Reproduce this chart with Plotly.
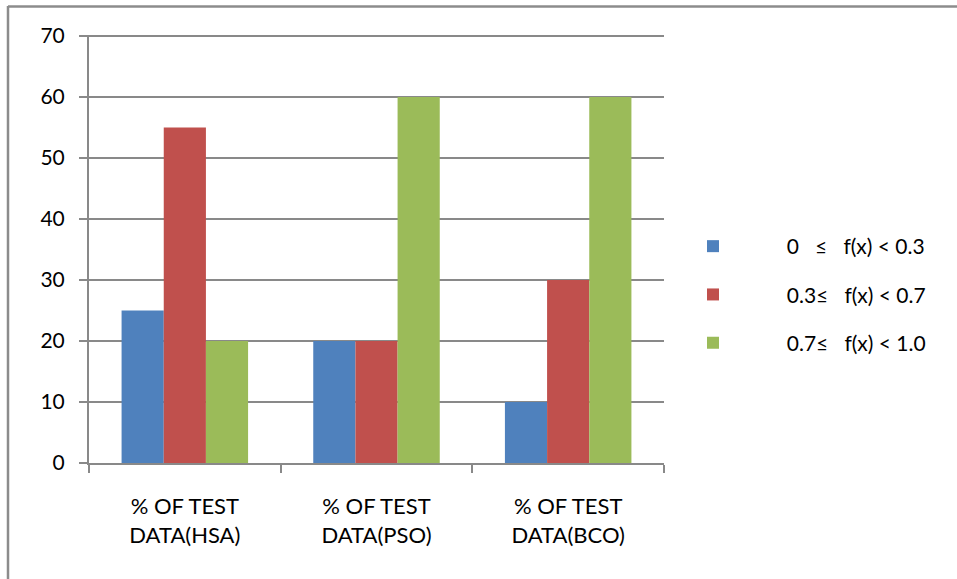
import plotly.graph_objects as go

categories = ["% OF TEST<br>DATA(HSA)", "% OF TEST<br>DATA(PSO)", "% OF TEST<br>DATA(BCO)"]
series_names = ["0\u00a0\u00a0\u00a0≤\u00a0\u00a0\u00a0f(x)\u00a0<\u00a00.3",
                "0.3≤\u00a0\u00a0\u00a0f(x)\u00a0<\u00a00.7",
                "0.7≤\u00a0\u00a0\u00a0f(x)\u00a0<\u00a01.0"]
low_vals = [25, 20, 10]
mid_vals = [55, 20, 30]
high_vals = [20, 60, 60]
colors = ["#4F81BD", "#C0504D", "#9BBB59"]
y_ticks = [0, 10, 20, 30, 40, 50, 60, 70]

FONT = "Lato, Open Sans, sans-serif"
fig = go.Figure()
pad = "\u00a0" * 10
for i, (name, vals) in enumerate(zip(series_names, [low_vals, mid_vals, high_vals])):
    fig.add_trace(go.Bar(x=categories, y=vals, name=pad + name, marker_color=colors[i],
                         marker_line_width=0, legendgroup=str(i)))

W, H = 957, 579
L, R, T, B = 89, 957 - 664, 36, 579 - 463
pw, ph = W - L - R, H - T - B

def px2x(p):
    return (p - L) / pw

def py2y(p):
    return (H - B - p) / ph

fig.update_layout(
    width=W, height=H,
    margin=dict(l=L, r=R, t=T, b=B, autoexpand=False),
    paper_bgcolor="white", plot_bgcolor="white",
    barmode="group", bargap=0.34, bargroupgap=0,
    font=dict(family=FONT, size=21, color="black"),
    legend=dict(x=px2x(693), y=py2y(226), xanchor="left", yanchor="top",
                tracegroupgap=18, font=dict(size=21), bgcolor="rgba(0,0,0,0)"),
    xaxis=dict(showgrid=False, showline=True, linecolor="#898989", linewidth=2,
               ticks="outside", tickson="boundaries", ticklen=8, tickwidth=2, tickcolor="#898989",
               ticklabelstandoff=23, tickfont=dict(size=22)),
    yaxis=dict(range=[0, 70], tickvals=y_ticks, showgrid=True, gridcolor="#898989", gridwidth=2,
               showline=True, linecolor="#898989", linewidth=2, ticks="outside", ticklen=8,
               tickwidth=2, tickcolor="#898989", ticklabelstandoff=10, zeroline=False),
    shapes=[
        dict(type="line", xref="paper", yref="paper", x0=px2x(8), x1=px2x(W + 5), y0=py2y(6.5), y1=py2y(6.5),
             line=dict(color="#8c8c8c", width=2.5)),
        dict(type="line", xref="paper", yref="paper", x0=px2x(8), x1=px2x(8), y0=py2y(6), y1=py2y(H + 5),
             line=dict(color="#8c8c8c", width=2.5)),
        dict(type="line", xref="paper", yref="paper", x0=px2x(81), x1=1, y0=1, y1=1,
             line=dict(color="#898989", width=2)),
    ],
)
fig.write_html("out.html", config={"displayModeBar": False},
               post_script="document.body.style.margin='0';document.body.style.overflow='hidden';")
